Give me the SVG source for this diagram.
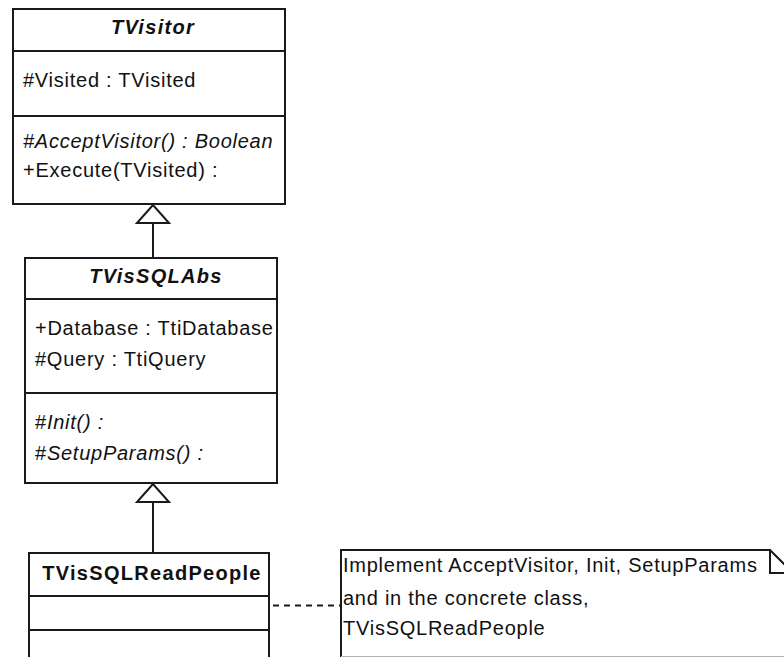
<svg xmlns="http://www.w3.org/2000/svg" width="784" height="657" viewBox="0 0 784 657">
  <style>
    .box { fill: #ffffff; stroke: #1a1a1a; stroke-width: 2; }
    .sep { stroke: #1a1a1a; stroke-width: 2; }
    .edge { fill: none; stroke: #1a1a1a; stroke-width: 2; }
    .head { fill: #ffffff; stroke: #1a1a1a; stroke-width: 2; stroke-linejoin: miter; }
    .dash { fill: none; stroke: #1a1a1a; stroke-width: 2; stroke-dasharray: 6 5; }
    text { font-family: "Liberation Sans", Arial, sans-serif; font-size: 20px; letter-spacing: 0.75px; fill: #111111; }
    .title { font-weight: bold; text-anchor: middle; letter-spacing: 1.3px; }
    .abs { font-style: italic; }
  </style>

  <rect width="784" height="657" fill="#ffffff"/>

  <!-- Generalization and note-link connectors -->
  <g id="connectors">
    <path class="edge" d="M153 223 V257"/>
    <path class="head" d="M153 205 L137 223 L169 223 Z"/>
    <path class="edge" d="M153 502 V553"/>
    <path class="head" d="M153 484 L137 502 L169 502 Z"/>
    <path class="dash" d="M273 605.5 H341"/>
  </g>

  <!-- Abstract base visitor -->
  <g id="TVisitor">
    <rect class="box" x="13" y="9" width="272" height="195"/>
    <line class="sep" x1="13" y1="51" x2="285" y2="51"/>
    <line class="sep" x1="13" y1="116" x2="285" y2="116"/>
    <text class="title abs" x="153" y="34">TVisitor</text>
    <text x="23" y="87">#Visited : TVisited</text>
    <text x="23" y="148" class="abs">#AcceptVisitor() : Boolean</text>
    <text x="23" y="177">+Execute(TVisited) :</text>
  </g>

  <!-- Abstract SQL visitor -->
  <g id="TVisSQLAbs">
    <rect class="box" x="25" y="258" width="252" height="225"/>
    <line class="sep" x1="25" y1="299" x2="277" y2="299"/>
    <line class="sep" x1="25" y1="393" x2="277" y2="393"/>
    <text class="title abs" x="156" y="283">TVisSQLAbs</text>
    <text x="35" y="335">+Database : TtiDatabase</text>
    <text x="35" y="366">#Query : TtiQuery</text>
    <text x="35" y="429">#<tspan class="abs">Init() :</tspan></text>
    <text x="35" y="460">#<tspan class="abs">SetupParams() :</tspan></text>
  </g>

  <!-- Concrete SQL read visitor -->
  <g id="TVisSQLReadPeople">
    <rect class="box" x="29" y="553" width="240" height="120"/>
    <line class="sep" x1="29" y1="596" x2="269" y2="596"/>
    <line class="sep" x1="29" y1="630" x2="269" y2="630"/>
    <text class="title" x="152" y="580">TVisSQLReadPeople</text>
  </g>

  <!-- Note -->
  <g id="note">
    <path class="edge" d="M341 657 V550 H770 L786 566"/>
    <path class="edge" d="M770 550 V573 H786"/>
    <line x1="341" y1="656.5" x2="784" y2="656.5" stroke="#b0b0b0" stroke-width="1"/>
    <text x="343" y="572">Implement AcceptVisitor, Init, SetupParams</text>
    <text x="343" y="605">and in the concrete class,</text>
    <text x="343" y="635">TVisSQLReadPeople</text>
  </g>
</svg>
